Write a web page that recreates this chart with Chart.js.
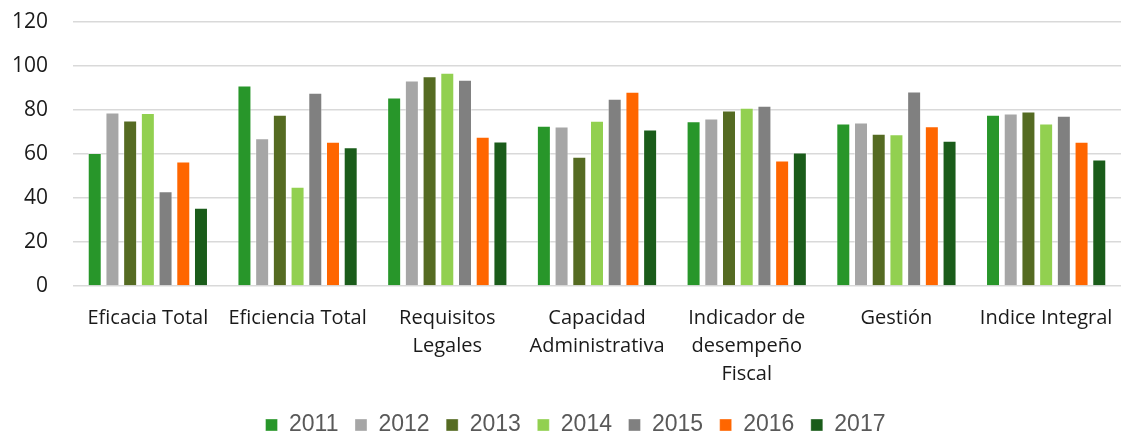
<!DOCTYPE html>
<html>
<head>
<meta charset="utf-8">
<script src="https://cdn.jsdelivr.net/npm/chart.js@4/dist/chart.umd.min.js"></script>
<style>
  html, body { margin: 0; padding: 0; background: #fff; }
  #wrap { width: 1121px; height: 436px; position: relative; }
</style>
</head>
<body>
<div id="wrap"><canvas id="chart"></canvas></div>
<script>
// --- Data ---
const categories = [
  'Eficacia Total',
  'Eficiencia Total',
  ['Requisitos', 'Legales'],
  ['Capacidad', 'Administrativa'],
  ['Indicador de', 'desempeño', 'Fiscal'],
  'Gestión',
  'Indice Integral',
];
const years = ['2011', '2012', '2013', '2014', '2015', '2016', '2017'];
const v2011 = [60.4, 91.1, 85.7, 72.8, 74.9, 73.9, 77.8];
const v2012 = [78.9, 67.2, 93.4, 72.5, 76.1, 74.3, 78.4];
const v2013 = [75.2, 77.8, 95.3, 58.7, 79.8, 69.2, 79.3];
const v2014 = [78.6, 45.1, 96.9, 75.1, 81.0, 69.0, 73.9];
const v2015 = [43.1, 87.8, 93.7, 85.1, 81.9, 88.4, 77.4];
const v2016 = [56.6, 65.6, 67.8, 88.3, 57.1, 72.6, 65.6];
const v2017 = [35.6, 63.1, 65.7, 71.1, 60.7, 66.0, 57.5];
const series = [v2011, v2012, v2013, v2014, v2015, v2016, v2017];

const COLORS = ['#28962a', '#a6a6a6', '#556b22', '#92d050', '#808080', '#ff6600', '#1a5c1a'];

// legend sits low, close to the bottom edge, a little right of centre
const legendPlace = {
  id: 'legendPlace',
  beforeInit(chart) {
    const fit = chart.legend.fit;
    chart.legend.fit = function () {
      fit.call(this);
      this.height = 39;
    };
  },
  afterLayout(chart) {
    chart.legend.left += 15;
    chart.legend.right += 15;
  },
};

new Chart(document.getElementById('chart'), {
  type: 'bar',
  data: {
    labels: categories,
    datasets: years.map((y, i) => ({
      label: y,
      data: series[i],
      backgroundColor: COLORS[i],
      borderColor: 'rgba(255,255,255,0.35)',
      borderWidth: 1,
      categoryPercentage: 0.828,
      barPercentage: 0.79,
    })),
  },
  plugins: [legendPlace],
  options: {
    responsive: true,
    maintainAspectRatio: false,
    animation: false,
    layout: { padding: { left: 0, right: 0, top: 22, bottom: 0 } },
    plugins: {
      tooltip: { enabled: false },
      legend: {
        position: 'bottom',
        labels: {
          boxWidth: 12,
          boxHeight: 12,
          padding: 16.5,
          color: '#595959',
          font: { family: 'Liberation Sans, Arial, sans-serif', size: 23 },
        },
      },
    },
    scales: {
      x: {
        grid: { display: false, drawTicks: false },
        border: { display: false },
        ticks: {
          color: '#1a1a1a',
          font: { family: 'Open Sans, sans-serif', size: 20, lineHeight: 1.4 },
          maxRotation: 0,
          autoSkip: false,
          padding: 18,
        },
        afterFit: (s) => {
          s.height = 111;
          s.paddingLeft = 0;
          s.paddingRight = 0;
        },
      },
      y: {
        min: 0,
        max: 120,
        ticks: {
          stepSize: 20,
          color: '#1a1a1a',
          font: { family: 'Open Sans, sans-serif', size: 21 },
          padding: 25,
        },
        grid: { color: '#d9d9d9', lineWidth: 1.5, drawTicks: false },
        border: { display: false },
        afterFit: (s) => {
          s.width = 73;
          s.paddingTop = 0;
          s.paddingBottom = 0;
        },
      },
    },
  },
});
</script>
</body>
</html>
